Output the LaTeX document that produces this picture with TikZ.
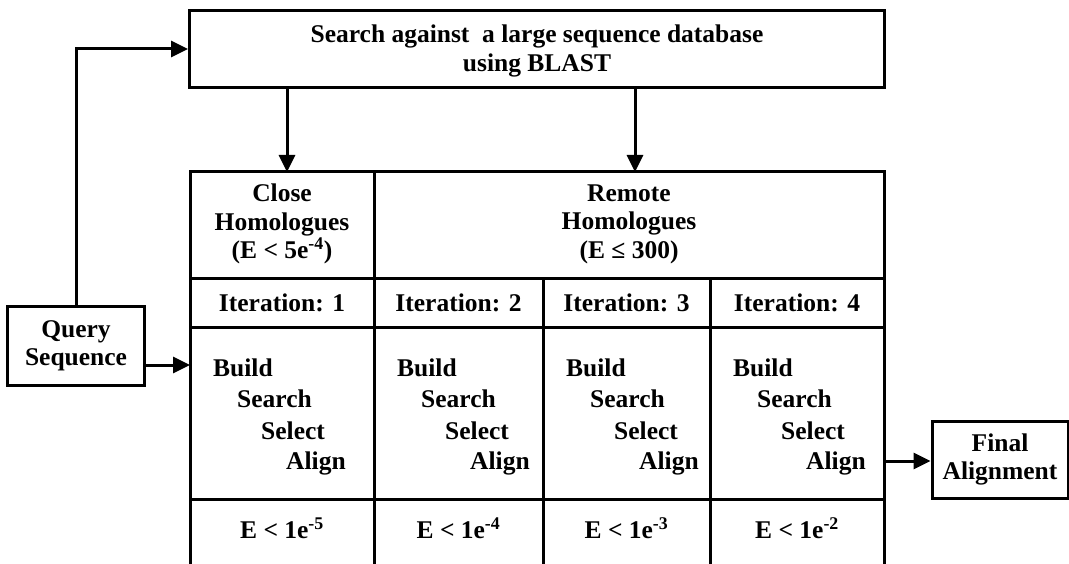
\documentclass[tikz,border=0pt]{standalone}
\usepackage{fontspec}
\setmainfont{Liberation Serif}
\usetikzlibrary{arrows.meta}
\begin{document}
\begin{tikzpicture}[x=1pt,y=-1pt,
 txt/.style={inner sep=0pt, align=center, font=\bfseries\fontsize{25.5}{28.5}\selectfont},
 box/.style={txt, draw, line width=3pt},
 grid/.style={line width=3pt, line cap=rect},
 arr/.style={line width=3pt, -{Triangle[length=17pt,width=16pt]}}]
\useasboundingbox (0,0) rectangle (1069,564);
% boxes
\node[box, minimum width=695pt, minimum height=77pt] (top) at (537,49) {};
\node[txt] (toptext) at (537,51) {Search against\ \ a large sequence database\\using BLAST};
\node[box, minimum width=137pt, minimum height=78pt] (query) at (76,346)
  {Query\\Sequence};
\node[box, minimum width=136pt, minimum height=77pt] (final) at (1000,459.5)
  {Final\\Alignment};
% table grid
\draw[grid] (190,566) -- (190,172) -- (884,172) -- (884,566);
\draw[grid] (190,279) -- (884,279);
\draw[grid] (190,327) -- (884,327);
\draw[grid] (190,499) -- (884,499);
\draw[grid] (374,172) -- (374,566);
\draw[grid] (543,279) -- (543,566);
\draw[grid] (710,279) -- (710,566);
% connector end points
\coordinate (c1) at (287,172);
\coordinate (c2) at (635,172);
\coordinate (qin) at (190,365);
\coordinate (fout) at (884,461);
% connectors
\draw[arr] (top.south -| c1) -- (c1);
\draw[arr] (top.south -| c2) -- (c2);
\draw[arr] (query.north) |- (top.west);
\draw[arr] (query.east |- qin) -- (qin);
\draw[arr] (fout) -- (fout -| final.west);
% headers
\node[txt] (hclose) at (282,224) {Close\\Homologues\\(E < 5e\textsuperscript{-4})};
\node[txt] (hremote) at (629,224) {Remote\\Homologues\\(E ≤ 300)};
% iterations
\node[txt] (it1) at (282,303) {Iteration: 1};
\node[txt] (it2) at (458.5,303) {Iteration: 2};
\node[txt] (it3) at (626.5,303) {Iteration: 3};
\node[txt] (it4) at (797,303) {Iteration: 4};
% steps
\foreach \x/\n in {190/a,374/b,543/c,710/d}{
  \node[txt, anchor=west] (build\n) at (\x+23,368) {Build};
  \node[txt, anchor=west] (search\n) at (\x+47,399) {Search};
  \node[txt, anchor=west] (select\n) at (\x+71,431) {Select};
  \node[txt, anchor=west] (align\n) at (\x+96,463) {Align};
}
% thresholds
\node[txt] (e1) at (282,528) {E < 1e\textsuperscript{-5}};
\node[txt] (e2) at (458.5,528) {E < 1e\textsuperscript{-4}};
\node[txt] (e3) at (626.5,528) {E < 1e\textsuperscript{-3}};
\node[txt] (e4) at (797,528) {E < 1e\textsuperscript{-2}};
\end{tikzpicture}
\end{document}
